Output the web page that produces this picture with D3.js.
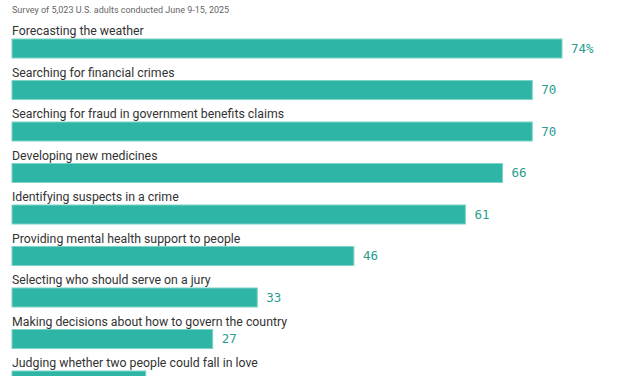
<!DOCTYPE html>
<html><head><meta charset="utf-8">
<script src="https://cdn.jsdelivr.net/npm/d3@7"></script>
<style>
html,body{margin:0;padding:0;background:#fff;}
svg{display:block;}
</style></head>
<body>
<svg id="chart" width="627" height="376"></svg>
<script>
const subtitle = "Survey of 5,023 U.S. adults conducted June 9-15, 2025";
const categories = [
  "Forecasting the weather",
  "Searching for financial crimes",
  "Searching for fraud in government benefits claims",
  "Developing new medicines",
  "Identifying suspects in a crime",
  "Providing mental health support to people",
  "Selecting who should serve on a jury",
  "Making decisions about how to govern the country",
  "Judging whether two people could fall in love"
];
const values = [74, 70, 70, 66, 61, 46, 33, 27, 18];

const svg = d3.select("#chart");
const left = 12, rowTop = 39, rowStep = 41.5, barH = 19;

const x = d3.scaleLinear().domain([0, 74]).range([left, 562]);
const y = d3.scaleBand().domain(categories)
  .range([rowTop, rowTop + rowStep * categories.length]).paddingInner(0).paddingOuter(0);

svg.append("text").attr("x", left).attr("y", 13)
  .attr("font-family", "Roboto, sans-serif").attr("font-size", 9)
  .attr("fill", "#666").text(subtitle);

const g = svg.selectAll("g.row").data(categories).join("g").attr("class", "row");

g.append("text").attr("x", left).attr("y", d => y(d) - 4)
  .attr("font-family", "Roboto, sans-serif").attr("font-size", 12.3)
  .attr("fill", "#333").text(d => d);

g.append("rect").attr("x", x(0)).attr("y", d => y(d))
  .attr("width", (d, i) => x(values[i]) - x(0)).attr("height", barH)
  .attr("fill", "#2fb5a6").attr("stroke", "#7dd3c8").attr("stroke-width", 1);

g.append("text").attr("x", (d, i) => x(values[i]) + 9).attr("y", d => y(d) + barH / 2)
  .attr("dy", "0.35em")
  .attr("font-family", "'DejaVu Sans Mono', monospace").attr("font-size", 12.5)
  .attr("fill", "#2a9d90")
  .text((d, i) => i === 0 ? values[i] + "%" : values[i]);
</script>
</body></html>
